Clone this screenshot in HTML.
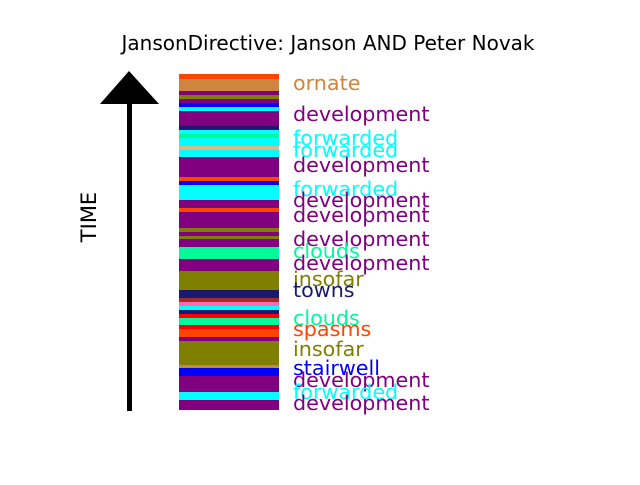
<!DOCTYPE html>
<html><head><meta charset="utf-8"><style>html,body{margin:0;padding:0;background:#fff}</style></head>
<body>
<svg width="640" height="480" xmlns="http://www.w3.org/2000/svg" font-family="DejaVu Sans, Liberation Sans, sans-serif">
<rect width="640" height="480" fill="#fff"/>
<text x="328" y="50" font-size="20" text-anchor="middle">JansonDirective: Janson AND Peter Novak</text>
<rect x="127" y="100" width="5" height="311" fill="#000"/>
<polygon points="129,71 100,104 159,104" fill="#000"/>
<text x="0" y="0" font-size="21" text-anchor="middle" transform="translate(96,217) rotate(-90)">TIME</text>
<g>
<rect x="179" y="74" width="100" height="5" fill="#ff4500"/>
<rect x="179" y="79" width="100" height="12" fill="#cd853f"/>
<rect x="179" y="91" width="100" height="4" fill="#800080"/>
<rect x="179" y="95" width="100" height="4" fill="#808000"/>
<rect x="179" y="99" width="100" height="4" fill="#800080"/>
<rect x="179" y="103" width="100" height="4" fill="#0000ff"/>
<rect x="179" y="107" width="100" height="4" fill="#00ffff"/>
<rect x="179" y="111" width="100" height="15" fill="#800080"/>
<rect x="179" y="126" width="100" height="4" fill="#191970"/>
<rect x="179" y="130" width="100" height="4" fill="#00ffff"/>
<rect x="179" y="134" width="100" height="4" fill="#00fa9a"/>
<rect x="179" y="138" width="100" height="8" fill="#00ffff"/>
<rect x="179" y="146" width="100" height="4" fill="#deb887"/>
<rect x="179" y="150" width="100" height="7" fill="#00ffff"/>
<rect x="179" y="157" width="100" height="20" fill="#800080"/>
<rect x="179" y="177" width="100" height="4" fill="#ff4500"/>
<rect x="179" y="181" width="100" height="4" fill="#0000ff"/>
<rect x="179" y="185" width="100" height="15" fill="#00ffff"/>
<rect x="179" y="200" width="100" height="8" fill="#800080"/>
<rect x="179" y="208" width="100" height="4" fill="#ff4500"/>
<rect x="179" y="212" width="100" height="16" fill="#800080"/>
<rect x="179" y="228" width="100" height="4" fill="#808000"/>
<rect x="179" y="232" width="100" height="4" fill="#800080"/>
<rect x="179" y="236" width="100" height="3" fill="#808000"/>
<rect x="179" y="239" width="100" height="8" fill="#800080"/>
<rect x="179" y="247" width="100" height="12" fill="#00fa9a"/>
<rect x="179" y="259" width="100" height="12" fill="#800080"/>
<rect x="179" y="271" width="100" height="19" fill="#808000"/>
<rect x="179" y="290" width="100" height="8" fill="#191970"/>
<rect x="179" y="298" width="100" height="4" fill="#a52a2a"/>
<rect x="179" y="302" width="100" height="4" fill="#ff69b4"/>
<rect x="179" y="306" width="100" height="4" fill="#00ffff"/>
<rect x="179" y="310" width="100" height="4" fill="#191970"/>
<rect x="179" y="314" width="100" height="4" fill="#ff0000"/>
<rect x="179" y="318" width="100" height="7" fill="#00fa9a"/>
<rect x="179" y="325" width="100" height="4" fill="#ff0000"/>
<rect x="179" y="329" width="100" height="8" fill="#ff4500"/>
<rect x="179" y="337" width="100" height="4" fill="#800080"/>
<rect x="179" y="341" width="100" height="24" fill="#808000"/>
<rect x="179" y="365" width="100" height="3" fill="#cd853f"/>
<rect x="179" y="368" width="100" height="8" fill="#0000ff"/>
<rect x="179" y="376" width="100" height="16" fill="#800080"/>
<rect x="179" y="392" width="100" height="8" fill="#00ffff"/>
<rect x="179" y="400" width="100" height="10" fill="#800080"/>
</g>
<g font-size="20.7" dominant-baseline="central">
<text x="293" y="83" fill="#cd853f">ornate</text>
<text x="293" y="114" fill="#800080">development</text>
<text x="293" y="138" fill="#00ffff">forwarded</text>
<text x="293" y="150" fill="#00ffff">forwarded</text>
<text x="293" y="165" fill="#800080">development</text>
<text x="293" y="189" fill="#00ffff">forwarded</text>
<text x="293" y="200" fill="#800080">development</text>
<text x="293" y="215" fill="#800080">development</text>
<text x="293" y="239" fill="#800080">development</text>
<text x="293" y="251" fill="#00fa9a">clouds</text>
<text x="293" y="263" fill="#800080">development</text>
<text x="293" y="279" fill="#808000">insofar</text>
<text x="293" y="290" fill="#191970">towns</text>
<text x="293" y="318" fill="#00fa9a">clouds</text>
<text x="293" y="329" fill="#ff4500">spasms</text>
<text x="293" y="349" fill="#808000">insofar</text>
<text x="293" y="368" fill="#0000ff">stairwell</text>
<text x="293" y="380" fill="#800080">development</text>
<text x="293" y="392" fill="#00ffff">forwarded</text>
<text x="293" y="403" fill="#800080">development</text>
</g>
</svg>
</body></html>
